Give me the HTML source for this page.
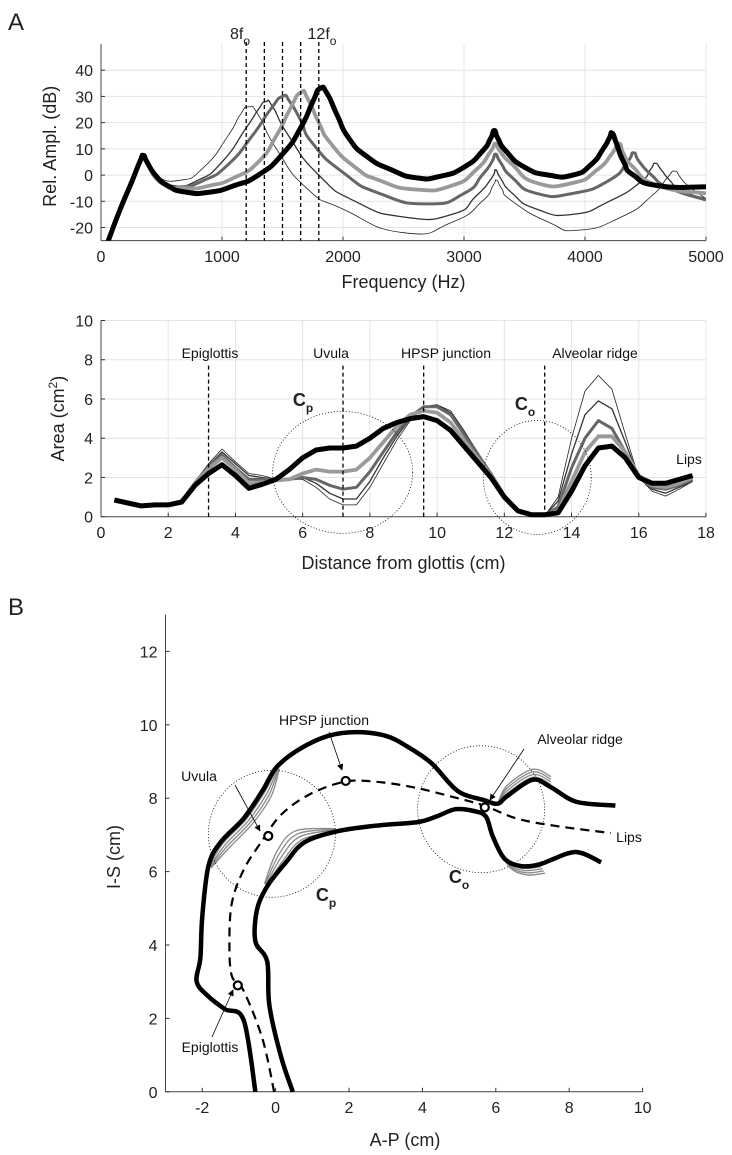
<!DOCTYPE html>
<html><head><meta charset="utf-8">
<style>
html,body{margin:0;padding:0;background:#fff;}
svg{display:block;font-family:"Liberation Sans",sans-serif;}
.tick{font-size:16px;fill:#222;}
.lab{font-size:18px;fill:#222;}
.ann{font-size:14px;fill:#111;}
</style></head>
<body>
<svg id="fig" width="732" height="1155" viewBox="0 0 732 1155" xmlns="http://www.w3.org/2000/svg">
<g id="pA"></g>
<g id="pM"></g>
<g id="pB"></g>
</svg>
<script>
// ---------- Panel A top: spectra ----------
const specFreqBlack = [0,60,150,250,320,350,380,450,550,700,900,1100,1300,1500,1650,1750,1810,1870,1950,2050,2200,2400,2600,2800,3000,3150,3220,3250,3280,3350,3500,3700,3900,4050,4150,4200,4225,4260,4320,4400,4600,5000];
const specDbBlack   = [-32,-25,-14,-3,5,7.5,5,0,-4,-6.5,-6.5,-4,0,8,18,28,33,31,23,14,7,2,-1,-0.5,3,9,14,17,14,9,3,0,0,4,10,14,16,12,5,0,-4,-4.5];
const specFreqLight = [0,60,150,250,320,350,380,500,700,900,1100,1300,1450,1560,1650,1710,1800,1900,2100,2300,2600,2900,3100,3220,3260,3300,3400,3600,3900,4100,4220,4280,4320,4400,4600,5000];
const specDbLight   = [-32,-25,-14,-3,5,7.5,5,-3,-5,-4,-1,5,15,25,31.5,29,20,12,3,-2,-5.5,-4,2,9,12,9,4,-3,-3,2,8,12,8,3,-4,-7];
const specFreqDark  = [0,60,150,250,320,350,380,500,650,850,1050,1250,1400,1500,1560,1650,1750,2000,2300,2700,3000,3150,3230,3260,3300,3400,3600,3900,4200,4350,4400,4450,4550,4700,5000];
const specDbDark    = [-32,-25,-14,-3,5,7.5,5,-3,-4.5,-2,4,15,25,30,28,21,12,1,-7,-11,-7,0,5,8,5,-1,-7,-7,-2,5,8.5,5,0,-5,-9.5];
const specFreqThin  = [0,60,150,250,320,350,380,450,600,800,1000,1200,1300,1360,1420,1550,1800,2100,2500,2900,3100,3230,3260,3300,3400,3600,3900,4200,4450,4540,4580,4630,4700,4800,5000];
const specDbThin    = [-32,-25,-14,-3,5,7.5,5,0,-4,-2,5,18,25,28,26,15,0,-10,-16,-15,-8,-1,2,-1,-7,-13,-15,-10,-3,2,4.5,2,-2,-6,-9];
const specFreqThinnest = [0,60,150,250,320,350,380,450,650,850,1050,1150,1220,1300,1450,1700,2000,2500,2900,3150,3240,3270,3310,3400,3700,3950,4300,4550,4680,4740,4790,4850,5000];
const specDbThinnest   = [-32,-25,-14,-3,5,7.5,5,0,-2,3,15,23,26,23,10,-5,-13,-22,-18,-10,-4,-2,-5,-10,-18,-21,-16,-8,-1,1.5,-1,-4,-9];
const harmonicFreqs = [1200,1350,1500,1650,1800];
const specXTicks = [0,1000,2000,3000,4000,5000];
const specYTicks = [-20,-10,0,10,20,30,40];

// ---------- Panel A bottom: area functions ----------
const areaX = [0.4,0.8,1.2,1.6,2.0,2.4,2.8,3.2,3.6,4.0,4.4,4.8,5.2,5.6,6.0,6.4,6.8,7.2,7.6,8.0,8.4,8.8,9.2,9.6,10.0,10.4,10.8,11.2,11.6,12.0,12.4,12.8,13.2,13.6,14.0,14.4,14.8,15.2,15.6,16.0,16.4,16.8,17.2,17.6];
const areaBlack = [.85,.7,.55,.6,.6,.75,1.6,2.2,2.65,2.1,1.45,1.65,1.9,2.4,3.0,3.4,3.5,3.5,3.6,4.0,4.5,4.8,5.0,5.1,4.9,4.4,3.6,2.8,2.0,1.0,.3,.1,.1,.2,1.3,2.6,3.5,3.6,3.0,2.0,1.7,1.7,1.9,2.1];
const areaLight = [.85,.67,.55,.6,.6,.77,1.7,2.45,3.0,2.4,1.7,1.75,1.85,1.9,2.2,2.4,2.3,2.3,2.4,3.0,3.8,4.6,5.2,5.4,5.3,4.8,3.9,3.0,2.1,1.0,.3,.1,.1,.3,1.8,3.3,4.1,4.1,3.3,2.1,1.6,1.5,1.7,2.0];
const areaDark  = [.85,.66,.55,.6,.6,.78,1.75,2.55,3.15,2.5,1.9,1.9,1.9,1.9,2.0,1.9,1.6,1.4,1.5,2.3,3.3,4.3,5.1,5.6,5.6,5.2,4.2,3.2,2.2,1.1,.3,.1,.05,.5,2.5,4.0,4.9,4.5,3.3,2.0,1.5,1.4,1.6,1.9];
const areaThin  = [.85,.65,.55,.6,.6,.79,1.78,2.62,3.3,2.7,2.1,2.0,1.9,1.9,2.0,1.7,1.2,.9,.9,1.8,3.0,4.1,5.0,5.6,5.7,5.3,4.3,3.3,2.2,1.1,.3,.1,.05,.8,3.2,5.2,5.9,5.5,3.8,2.0,1.4,1.2,1.5,1.8];
const areaThinnest = [.85,.65,.55,.6,.6,.8,1.8,2.7,3.45,2.8,2.2,2.1,1.9,1.9,1.9,1.5,.9,.6,.6,1.5,2.7,3.9,4.9,5.6,5.7,5.4,4.4,3.3,2.2,1.1,.3,.1,.05,1.0,4.0,6.4,7.2,6.5,4.2,2.0,1.3,1.05,1.4,1.8];
const landmarkX = [3.2,7.2,9.6,13.2];
const landmarkNames = ["Epiglottis","Uvula","HPSP junction","Alveolar ridge"];
const areaXTicks = [0,2,4,6,8,10,12,14,16,18];
const areaYTicks = [0,2,4,6,8,10];

// ---------- Panel B: midsagittal tract ----------
const outerX = [-0.55,-0.87,-1.38,-1.83,-2.15,-2.05,-2.0,-1.83,-1.5,-0.87,-0.36,0.03,0.67,1.44,2.2,3.0,3.6,4.25,4.96,5.67,6.05,6.3,7.0,7.5,8.2,9.26];
const outerY = [0,1.95,2.25,2.6,3.0,3.65,4.75,6.15,6.8,7.45,8.2,8.85,9.35,9.7,9.8,9.7,9.4,8.95,8.2,7.95,7.85,8.05,8.5,8.3,7.9,7.8];
const innerX = [0.47,0.15,-0.17,-0.23,-0.55,-0.51,-0.23,0.28,0.79,1.69,2.72,3.87,4.38,4.9,5.4,5.73,5.92,6.24,6.69,7.2,7.97,8.36,8.87];
const innerY = [0,0.95,2.35,3.55,4.1,4.95,5.6,6.25,6.8,7.1,7.25,7.35,7.5,7.7,7.65,7.5,6.95,6.35,6.15,6.2,6.5,6.5,6.25];
const midX = [-0.04,-0.36,-0.87,-1.19,-1.26,-1.19,-0.87,-0.36,0.15,0.92,1.88,2.72,3.74,4.77,5.67,6.56,7.59,9.13];
const midY = [0,1.45,2.75,3.15,4.05,5.15,6.05,6.85,7.55,8.1,8.45,8.45,8.3,8.05,7.8,7.45,7.25,7.05];
const markerX = [-1.03,-0.2,1.91,5.7];
const markerY = [2.9,6.97,8.47,7.75];
const tractXTicks = [-2,0,2,4,6,8,10];
const tractYTicks = [0,2,4,6,8,10,12];

const NS = "http://www.w3.org/2000/svg";
function mk(parent, tag, attrs){
  const e = document.createElementNS(NS, tag);
  for (const k in attrs) e.setAttribute(k, attrs[k]);
  parent.appendChild(e);
  return e;
}
function txt(parent, x, y, s, cls, anchor){
  const t = mk(parent, "text", {x:x, y:y, class:cls, "text-anchor":anchor||"middle"});
  t.textContent = s;
  return t;
}
function pathFrom(xs, ys, sx, sy){
  let d = "";
  for (let i=0;i<xs.length;i++) d += (i?"L":"M") + sx(xs[i]).toFixed(1) + "," + sy(ys[i]).toFixed(1);
  return d;
}
function smoothPath(xs, ys, sx, sy, k){
  k = k===undefined ? 0.5 : k;
  const P = xs.map((x,i)=>[sx(x), sy(ys[i])]);
  let d = "M"+P[0][0].toFixed(1)+","+P[0][1].toFixed(1);
  for (let i=0;i<P.length-1;i++){
    const p0 = P[Math.max(0,i-1)], p1 = P[i], p2 = P[i+1], p3 = P[Math.min(P.length-1,i+2)];
    const c1x = p1[0] + (p2[0]-p0[0])*k/3, c1y = p1[1] + (p2[1]-p0[1])*k/3;
    const c2x = p2[0] - (p3[0]-p1[0])*k/3, c2y = p2[1] - (p3[1]-p1[1])*k/3;
    d += "C"+c1x.toFixed(1)+","+c1y.toFixed(1)+" "+c2x.toFixed(1)+","+c2y.toFixed(1)+" "+p2[0].toFixed(1)+","+p2[1].toFixed(1);
  }
  return d;
}

// ===== Panel A spectrum =====
(function(){
  const g = document.getElementById("pA");
  const L=101,R=706,T=44,B=240.6;
  const sx = f => L + (f/5000)*(R-L);
  const sy = v => B - (v+25)/75*(B-T);
  const clip = mk(g,"clipPath",{id:"clipA"});
  mk(clip,"rect",{x:L,y:T,width:R-L,height:B-T});
  const gA = txt(g, 16, 30, "A", "lab", "middle");
  gA.setAttribute("style","font-size:24px");
  
  
  for (const t of specXTicks){
    if (t>0){ const l = mk(g,"line",{x1:sx(t),x2:sx(t),y1:T,y2:B,stroke:"#e4e4e4","stroke-width":1});
        }
    mk(g,"line",{x1:sx(t),x2:sx(t),y1:B,y2:B-4,stroke:"#333"});
    const tl = txt(g, sx(t), 262, String(t), "tick");
    
    
  }
  for (const t of specYTicks){
    const l = mk(g,"line",{x1:L,x2:R,y1:sy(t),y2:sy(t),stroke:"#e4e4e4","stroke-width":1});
     
    mk(g,"line",{x1:L,x2:L+4,y1:sy(t),y2:sy(t),stroke:"#333"});
    const tl = txt(g, L-8, sy(t)+6, String(t), "tick", "end");
    
    
  }
  mk(g,"line",{x1:L,x2:L,y1:T,y2:B,stroke:"#444"});
  mk(g,"line",{x1:L,x2:R,y1:B,y2:B,stroke:"#444"});
  const cg = mk(g,"g",{"clip-path":"url(#clipA)"});
  const series = [
    [specFreqThinnest, specDbThinnest, "#222", 0.8, "spectrum-8f0"],
    [specFreqThin, specDbThin, "#333", 1.3, "spectrum-9f0"],
    [specFreqDark, specDbDark, "#666", 3, "spectrum-10f0"],
    [specFreqLight, specDbLight, "#9a9a9a", 3.8, "spectrum-11f0"],
    [specFreqBlack, specDbBlack, "#000", 5, "spectrum-12f0"]
  ];
  for (const s of series){
    const p = mk(cg,"path",{d:smoothPath(s[0],s[1],sx,sy,0.9),fill:"none",stroke:s[2],"stroke-width":s[3],"stroke-linejoin":"round"});
    
    
  }
  for (const h of harmonicFreqs){
    const l = mk(g,"line",{x1:sx(h),x2:sx(h),y1:42,y2:B,stroke:"#000","stroke-width":1.3,"stroke-dasharray":"4,3"});
    
    
  }
  const t8 = txt(g, 240, 39, "8f", "tick"); mk(t8,"tspan",{dy:6,style:"font-size:12px"}).textContent="o";
   
  const t12 = txt(g, 322, 39, "12f", "tick"); mk(t12,"tspan",{dy:6,style:"font-size:12px"}).textContent="o";
   
  const xl = txt(g, (L+R)/2, 288, "Frequency (Hz)", "lab");
   
  const yl = txt(g, 0, 0, "Rel. Ampl. (dB)", "lab");
  yl.setAttribute("transform","translate(56,"+((T+B)/2+4)+") rotate(-90)");
   
})();

// ===== Panel A area function =====
(function(){
  const g = document.getElementById("pM");
  const L=101,R=706,T=320.5,B=516.7;
  const sx = v => L + v/18*(R-L);
  const sy = v => B - v/10*(B-T);
  for (const t of areaXTicks){
    if (t>0){ const l = mk(g,"line",{x1:sx(t),x2:sx(t),y1:T,y2:B,stroke:"#e4e4e4"});
        }
    mk(g,"line",{x1:sx(t),x2:sx(t),y1:B,y2:B-4,stroke:"#333"});
    const tl = txt(g, sx(t), 538, String(t), "tick");
     
  }
  for (const t of areaYTicks){
    if (t>0){ const l = mk(g,"line",{x1:L,x2:R,y1:sy(t),y2:sy(t),stroke:"#e4e4e4"});
        }
    mk(g,"line",{x1:L,x2:L+4,y1:sy(t),y2:sy(t),stroke:"#333"});
    const tl = txt(g, L-8, sy(t)+6, String(t), "tick", "end");
     
  }
  mk(g,"line",{x1:L,x2:L,y1:T,y2:B,stroke:"#444"});
  mk(g,"line",{x1:L,x2:R,y1:B,y2:B,stroke:"#444"});
  const series = [
    [areaThinnest,"#222",0.8,"area-8f0"],
    [areaThin,"#333",1.3,"area-9f0"],
    [areaDark,"#666",3,"area-10f0"],
    [areaLight,"#9a9a9a",3.8,"area-11f0"],
    [areaBlack,"#000",5,"area-12f0"]
  ];
  for (const s of series){
    const p = mk(g,"path",{d:pathFrom(areaX,s[0],sx,sy),fill:"none",stroke:s[1],"stroke-width":s[2],"stroke-linejoin":"round"});
    
    
  }
  const labX = [210,331,446,595];
  for (let i=0;i<landmarkX.length;i++){
    const l = mk(g,"line",{x1:sx(landmarkX[i]),x2:sx(landmarkX[i]),y1:sy(7.7),y2:B,stroke:"#000","stroke-width":1.3,"stroke-dasharray":"4,3"});
    
    
    const t = txt(g, labX[i], 358, landmarkNames[i], "ann");
    
    
  }
  const lp = txt(g, 689, 464, "Lips", "ann");
   
  const e1 = mk(g,"ellipse",{cx:sx(7.19),cy:sy(2.26),rx:70,ry:61,fill:"none",stroke:"#000","stroke-width":0.8,"stroke-dasharray":"1,2"});
   
  const e2 = mk(g,"ellipse",{cx:sx(12.98),cy:sy(2.0),rx:54,ry:57,fill:"none",stroke:"#000","stroke-width":0.8,"stroke-dasharray":"1,2"});
   
  const cp = txt(g, 303, 406, "C", "lab"); cp.setAttribute("style","font-weight:bold");
  mk(cp,"tspan",{dy:6,style:"font-size:12px"}).textContent="p";
   
  const co = txt(g, 525, 410, "C", "lab"); co.setAttribute("style","font-weight:bold");
  mk(co,"tspan",{dy:6,style:"font-size:12px"}).textContent="o";
   
  const xl = txt(g, (L+R)/2, 569, "Distance from glottis (cm)", "lab");
   
  const yl = txt(g, 0, 0, "Area (cm", "lab");
  mk(yl,"tspan",{dy:-7,style:"font-size:12px"}).textContent="2";
  const yt = mk(yl,"tspan",{dy:7}); yt.textContent=")";
  yl.setAttribute("transform","translate(64,"+((T+B)/2)+") rotate(-90)");
   
})();

// ===== Panel B =====
(function(){
  const g = document.getElementById("pB");
  const L=165.5,B=1091.8,U=36.7;
  const sx = v => L + (v+3)*U;
  const sy = v => B - v*U;
  const T = sy(13);
  const bl = txt(g, 16, 615, "B", "lab"); bl.setAttribute("style","font-size:24px");
   
  mk(g,"line",{x1:L,x2:L,y1:T,y2:B,stroke:"#444"});
  mk(g,"line",{x1:L,x2:sx(10),y1:B,y2:B,stroke:"#444"});
  for (const t of tractXTicks){
    mk(g,"line",{x1:sx(t),x2:sx(t),y1:B,y2:B-4,stroke:"#333"});
    const tl = txt(g, sx(t), 1113, String(t), "tick");
     
  }
  for (const t of tractYTicks){
    mk(g,"line",{x1:L,x2:L+4,y1:sy(t),y2:sy(t),stroke:"#333"});
    const tl = txt(g, L-8, sy(t)+6, String(t), "tick", "end");
     
  }
  // gray variant bands (deformations)
  const grayOff = [0.06,0.12,0.18,0.24];
  for (const o of grayOff){
    const xs1 = outerX.slice(7,12).map((v,i)=>v+o*(i>0&&i<4?1:0.3)), ys1 = outerY.slice(7,12).map((v,i)=>v-o*(i>0&&i<4?0.6:0.2));
    const a = mk(g,"path",{d:smoothPath(xs1,ys1,sx,sy),fill:"none",stroke:"#888","stroke-width":1.3});
     
    const xs2 = innerX.slice(6,10).map((v,i)=>v-o*(i===0||i===3?0.3:1)), ys2 = innerY.slice(6,10).map((v,i)=>v+o*(i===0||i===3?0.3:1.3));
    const b = mk(g,"path",{d:smoothPath(xs2,ys2,sx,sy),fill:"none",stroke:"#888","stroke-width":1.3});
     
    const xs3 = innerX.slice(15,20).map((v,i)=>v+o*0.6*(i===0?0:1)), ys3 = innerY.slice(15,20).map((v,i)=>v-o*1.0*(i===0?0:1));
    const c = mk(g,"path",{d:smoothPath(xs3,ys3,sx,sy),fill:"none",stroke:"#888","stroke-width":1.3});
     
    const xs4 = outerX.slice(20,24), ys4 = outerY.slice(20,24).map((v,i)=>v+o*(i===0?0:1.2));
    const d = mk(g,"path",{d:smoothPath(xs4,ys4,sx,sy),fill:"none",stroke:"#888","stroke-width":1.3});
     
  }
  const ow = mk(g,"path",{d:smoothPath(outerX,outerY,sx,sy),fill:"none",stroke:"#000","stroke-width":4.5,"stroke-linejoin":"round"});
   
  const iw = mk(g,"path",{d:smoothPath(innerX,innerY,sx,sy),fill:"none",stroke:"#000","stroke-width":4.5,"stroke-linejoin":"round"});
   
  const ml = mk(g,"path",{d:smoothPath(midX,midY,sx,sy),fill:"none",stroke:"#000","stroke-width":2.2,"stroke-dasharray":"9,6"});
   
  const c1 = mk(g,"circle",{cx:sx(-0.1),cy:sy(7.03),r:1.73*U,fill:"none",stroke:"#000","stroke-width":0.8,"stroke-dasharray":"1,2"});
   
  const c2 = mk(g,"circle",{cx:sx(5.6),cy:sy(7.7),r:1.73*U,fill:"none",stroke:"#000","stroke-width":0.8,"stroke-dasharray":"1,2"});
   
  // arrows
  const defs = mk(g,"defs",{});
  const mkr = mk(defs,"marker",{id:"ah",viewBox:"0 0 10 10",refX:9,refY:5,markerWidth:8,markerHeight:8,orient:"auto"});
  mk(mkr,"path",{d:"M0,0 L10,5 L0,10 z",fill:"#000"});
  const arrows = [[235,785,260,831,"uvula-arrow"],[329,732,342,770,"hpsp-arrow"],[524,749,490,800,"alveolar-arrow"],[212,1037,233,990,"epiglottis-arrow"]];
  for (const a of arrows){
    const l = mk(g,"line",{x1:a[0],y1:a[1],x2:a[2],y2:a[3],stroke:"#000","stroke-width":0.8,"marker-end":"url(#ah)"});
     
  }
  for (let i=0;i<markerX.length;i++){
    const m = mk(g,"circle",{cx:sx(markerX[i]),cy:sy(markerY[i]),r:4,fill:"#fff",stroke:"#000","stroke-width":2.2});
     
  }
  const labs = [[324,725,"HPSP junction"],[199,781,"Uvula"],[580,744,"Alveolar ridge"],[629,842,"Lips"],[210,1052,"Epiglottis"]];
  for (const l of labs){
    const t = txt(g, l[0], l[1], l[2], "ann");
     
  }
  const cp = txt(g, 326, 901, "C", "lab"); cp.setAttribute("style","font-weight:bold");
  mk(cp,"tspan",{dy:6,style:"font-size:12px"}).textContent="p";
   
  const co = txt(g, 459, 883, "C", "lab"); co.setAttribute("style","font-weight:bold");
  mk(co,"tspan",{dy:6,style:"font-size:12px"}).textContent="o";
   
  const xl = txt(g, 405, 1146, "A-P (cm)", "lab");
   
  const yl = txt(g, 0, 0, "I-S (cm)", "lab");
  yl.setAttribute("transform","translate(120,857) rotate(-90)");
   
})();
</script>
</body></html>
